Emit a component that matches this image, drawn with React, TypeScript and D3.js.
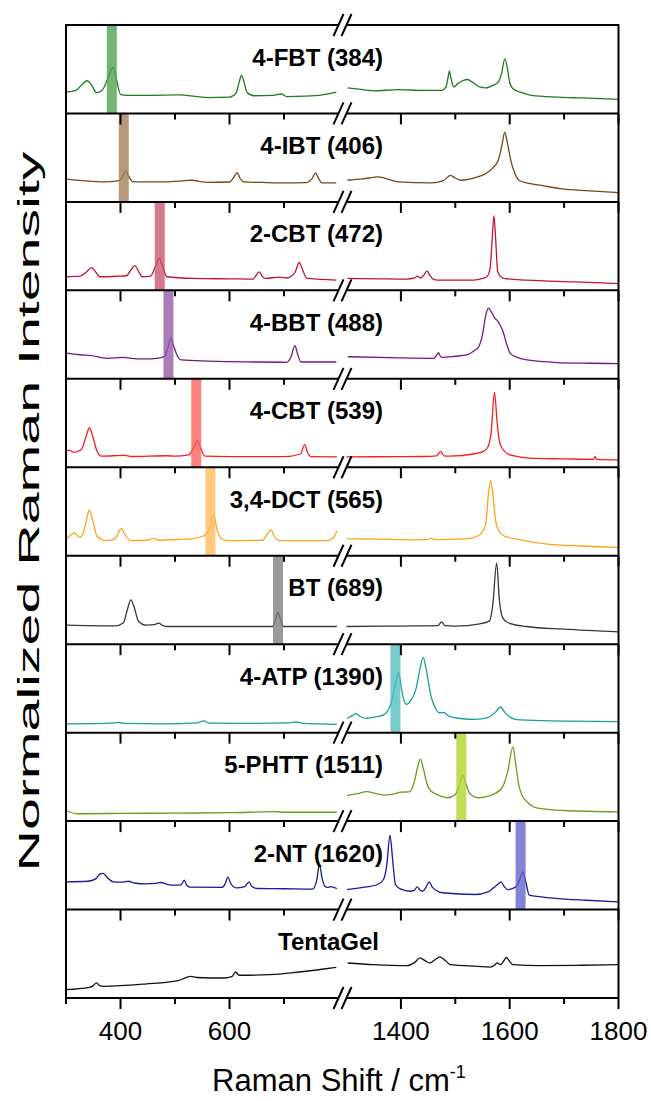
import React from 'react';
import * as d3 from 'd3';

// stacked SERS spectra, broken x axis (300-800 | 1300-1800)
const names = ['4-FBT (384)', '4-IBT (406)', '2-CBT (472)', '4-BBT (488)', '4-CBT (539)', '3,4-DCT (565)', 'BT (689)', '4-ATP (1390)', '5-PHTT (1511)', '2-NT (1620)', 'TentaGel'];
const marks = [384, 406, 472, 488, 539, 565, 689, 1390, 1511, 1620, null];

const majorTicks = [400, 600, 1400, 1600, 1800];
const minorTicks = [300, 500, 700, 1500, 1700];
const tickLabels = ['400', '600', '1400', '1600', '1800'];

// [wavenumber, normalized intensity within the panel]
const fbtLeft = [[300,0.24],[318,0.26],[330,0.33],[339,0.37],[346,0.33],[356,0.235],[366,0.26],[376,0.38],[386,0.52],[392,0.4],[400,0.216],[412,0.205],[450,0.205],[506,0.21],[560,0.18],[600,0.185],[612,0.23],[618,0.36],[622,0.43],[626,0.37],[632,0.24],[645,0.2],[680,0.205],[695,0.22],[705,0.19],[740,0.195],[770,0.21],[796,0.24]];
const fbtRight = [[1302,0.29],[1330,0.27],[1350,0.255],[1395,0.27],[1440,0.26],[1475,0.262],[1483,0.3],[1487,0.42],[1489,0.478],[1492,0.4],[1497,0.3],[1505,0.34],[1515,0.375],[1522,0.384],[1530,0.36],[1545,0.3],[1556,0.29],[1570,0.32],[1579,0.354],[1585,0.45],[1591,0.616],[1596,0.5],[1600,0.35],[1606,0.28],[1620,0.24],[1640,0.205],[1690,0.185],[1732,0.175],[1800,0.16]];
const ibtLeft = [[300,0.257],[330,0.24],[370,0.226],[398,0.24],[405,0.3],[410,0.35],[415,0.29],[423,0.226],[480,0.226],[510,0.235],[529,0.245],[560,0.22],[600,0.225],[608,0.28],[614,0.332],[619,0.27],[626,0.226],[660,0.22],[700,0.215],[740,0.218],[752,0.27],[758,0.328],[763,0.27],[770,0.215],[796,0.215]];
const ibtRight = [[1302,0.245],[1330,0.26],[1359,0.283],[1380,0.25],[1395,0.226],[1456,0.215],[1478,0.24],[1491,0.3],[1500,0.27],[1510,0.245],[1540,0.28],[1556,0.32],[1570,0.39],[1579,0.47],[1586,0.65],[1591,0.79],[1596,0.66],[1602,0.47],[1609,0.33],[1617,0.245],[1635,0.21],[1655,0.19],[1693,0.15],[1747,0.125],[1800,0.105]];
const cbt2Left = [[300,0.154],[325,0.16],[338,0.21],[347,0.258],[353,0.22],[362,0.154],[395,0.16],[411,0.165],[419,0.23],[426,0.28],[432,0.23],[440,0.154],[455,0.16],[464,0.27],[471,0.365],[476,0.3],[485,0.154],[534,0.135],[600,0.13],[643,0.127],[650,0.18],[655,0.21],[660,0.16],[665,0.135],[692,0.15],[705,0.14],[720,0.2],[728,0.315],[733,0.25],[742,0.135],[770,0.125],[796,0.115]];
const cbt2Right = [[1302,0.135],[1360,0.13],[1411,0.127],[1425,0.14],[1430,0.16],[1436,0.14],[1442,0.17],[1448,0.22],[1453,0.17],[1460,0.125],[1472,0.115],[1533,0.115],[1550,0.135],[1558,0.154],[1564,0.25],[1568,0.6],[1571,0.846],[1574,0.6],[1578,0.21],[1589,0.135],[1632,0.115],[1718,0.096],[1800,0.077]];
const bbtLeft = [[300,0.29],[325,0.272],[347,0.262],[365,0.24],[375,0.232],[405,0.243],[420,0.232],[442,0.225],[470,0.235],[480,0.25],[487,0.35],[492,0.457],[498,0.36],[505,0.25],[512,0.213],[560,0.2],[595,0.195],[650,0.19],[705,0.187],[713,0.25],[720,0.375],[725,0.28],[731,0.19],[796,0.19]];
const bbtRight = [[1302,0.25],[1380,0.24],[1460,0.232],[1466,0.27],[1469,0.296],[1472,0.26],[1476,0.243],[1500,0.255],[1521,0.27],[1535,0.32],[1543,0.363],[1550,0.5],[1556,0.72],[1561,0.8],[1566,0.76],[1572,0.69],[1577,0.66],[1583,0.6],[1588,0.53],[1594,0.4],[1601,0.288],[1615,0.24],[1632,0.213],[1687,0.184],[1750,0.176],[1800,0.172]];
const cbt4Left = [[300,0.19],[307,0.19],[315,0.168],[328,0.2],[336,0.33],[343,0.447],[349,0.35],[357,0.18],[365,0.125],[407,0.135],[420,0.122],[487,0.13],[500,0.125],[525,0.14],[534,0.22],[541,0.305],[547,0.22],[555,0.125],[600,0.12],[700,0.12],[730,0.15],[738,0.256],[743,0.17],[750,0.12],[797,0.118]];
const cbt4Right = [[1300,0.118],[1400,0.12],[1436,0.122],[1466,0.13],[1473,0.18],[1479,0.13],[1490,0.125],[1536,0.153],[1552,0.18],[1560,0.23],[1566,0.4],[1572,0.847],[1577,0.5],[1582,0.27],[1596,0.153],[1615,0.12],[1636,0.103],[1700,0.095],[1754,0.09],[1757,0.122],[1760,0.09],[1800,0.084]];
const dctLeft = [[300,0.19],[308,0.23],[315,0.257],[325,0.21],[333,0.28],[338,0.42],[343,0.517],[349,0.4],[357,0.22],[374,0.17],[390,0.19],[397,0.27],[402,0.31],[408,0.24],[420,0.17],[450,0.175],[460,0.196],[470,0.175],[487,0.18],[530,0.19],[553,0.226],[563,0.3],[571,0.46],[577,0.3],[585,0.19],[599,0.17],[660,0.175],[670,0.25],[676,0.294],[682,0.22],[692,0.17],[778,0.17],[790,0.2],[797,0.283]];
const dctRight = [[1301,0.19],[1380,0.185],[1436,0.18],[1450,0.185],[1456,0.2],[1462,0.182],[1520,0.19],[1540,0.22],[1549,0.264],[1556,0.36],[1561,0.7],[1565,0.85],[1569,0.7],[1574,0.4],[1580,0.28],[1589,0.226],[1620,0.18],[1669,0.132],[1730,0.11],[1800,0.094]];
const btLeft = [[300,0.215],[340,0.21],[390,0.207],[405,0.24],[413,0.4],[419,0.5],[425,0.42],[433,0.26],[447,0.215],[462,0.22],[470,0.238],[478,0.21],[487,0.2],[600,0.2],[679,0.2],[685,0.29],[689,0.36],[693,0.29],[699,0.2],[797,0.2]];
const btRight = [[1300,0.2],[1400,0.205],[1468,0.21],[1475,0.253],[1481,0.21],[1500,0.205],[1545,0.23],[1563,0.264],[1569,0.45],[1576,0.917],[1581,0.5],[1587,0.3],[1596,0.245],[1630,0.2],[1700,0.17],[1800,0.14]];
const atpLeft = [[300,0.1],[350,0.102],[390,0.11],[397,0.117],[405,0.105],[480,0.1],[540,0.11],[553,0.132],[562,0.108],[650,0.105],[710,0.11],[722,0.12],[735,0.105],[797,0.094]];
const atpRight = [[1301,0.162],[1310,0.19],[1317,0.215],[1326,0.18],[1337,0.162],[1355,0.18],[1370,0.207],[1378,0.27],[1383,0.358],[1390,0.55],[1396,0.68],[1401,0.5],[1406,0.36],[1410,0.32],[1418,0.36],[1428,0.5],[1436,0.75],[1441,0.85],[1447,0.7],[1455,0.42],[1463,0.283],[1470,0.226],[1479,0.226],[1490,0.18],[1510,0.16],[1536,0.15],[1560,0.17],[1575,0.24],[1583,0.29],[1592,0.22],[1610,0.15],[1660,0.135],[1800,0.125]];
const phttLeft = [[300,0.12],[321,0.083],[400,0.087],[500,0.09],[600,0.095],[685,0.106],[700,0.1],[797,0.1]];
const phttRight = [[1301,0.29],[1320,0.31],[1337,0.332],[1355,0.31],[1370,0.294],[1390,0.31],[1400,0.328],[1415,0.33],[1425,0.45],[1431,0.62],[1436,0.7],[1441,0.6],[1448,0.42],[1455,0.34],[1460,0.32],[1470,0.29],[1486,0.264],[1500,0.3],[1508,0.42],[1514,0.517],[1519,0.43],[1527,0.31],[1543,0.264],[1565,0.29],[1586,0.377],[1596,0.55],[1606,0.84],[1611,0.65],[1617,0.4],[1622,0.3],[1635,0.2],[1649,0.15],[1700,0.12],[1800,0.105]];
const ntLeft = [[300,0.313],[340,0.32],[355,0.35],[362,0.4],[368,0.41],[376,0.36],[387,0.313],[405,0.31],[414,0.32],[425,0.3],[447,0.29],[465,0.295],[474,0.306],[485,0.285],[500,0.275],[511,0.28],[517,0.332],[521,0.28],[527,0.253],[586,0.25],[592,0.29],[597,0.366],[602,0.3],[612,0.245],[628,0.26],[636,0.313],[641,0.26],[652,0.238],[700,0.235],[752,0.23],[760,0.33],[765,0.51],[770,0.35],[775,0.264],[780,0.25],[785,0.258],[797,0.238]];
const ntRight = [[1301,0.226],[1330,0.25],[1357,0.283],[1368,0.34],[1374,0.5],[1380,0.84],[1385,0.55],[1390,0.283],[1400,0.23],[1417,0.207],[1425,0.22],[1430,0.257],[1435,0.22],[1440,0.207],[1446,0.25],[1452,0.313],[1458,0.25],[1476,0.19],[1536,0.17],[1560,0.2],[1570,0.245],[1579,0.29],[1584,0.313],[1590,0.26],[1596,0.226],[1610,0.25],[1618,0.33],[1624,0.426],[1629,0.33],[1636,0.162],[1680,0.13],[1740,0.105],[1800,0.087]];
const tentaLeft = [[300,0.094],[343,0.12],[350,0.14],[356,0.17],[362,0.14],[369,0.132],[445,0.158],[506,0.196],[520,0.23],[529,0.245],[540,0.232],[590,0.226],[605,0.245],[611,0.294],[617,0.26],[621,0.257],[674,0.264],[727,0.294],[773,0.328],[796,0.347]];
const tentaRight = [[1302,0.396],[1350,0.377],[1411,0.366],[1425,0.4],[1435,0.453],[1445,0.42],[1453,0.396],[1462,0.43],[1472,0.464],[1482,0.42],[1491,0.377],[1541,0.358],[1564,0.35],[1572,0.37],[1577,0.396],[1583,0.377],[1589,0.42],[1594,0.46],[1599,0.42],[1606,0.377],[1655,0.366],[1730,0.37],[1800,0.377]];

const spectra = [
  [fbtLeft, fbtRight], [ibtLeft, ibtRight], [cbt2Left, cbt2Right], [bbtLeft, bbtRight],
  [cbt4Left, cbt4Right], [dctLeft, dctRight], [btLeft, btRight], [atpLeft, atpRight],
  [phttLeft, phttRight], [ntLeft, ntRight], [tentaLeft, tentaRight],
];

const lineColors = ['#1e7b1e', '#7a4515', '#c01535', '#72197f', '#ff1a1a', '#ffa31a', '#383838', '#1a9e9e', '#6b9c1a', '#1a1a9a', '#111111'];
const barColors = ['#4f9f4f', '#a47c58', '#c85570', '#9258a5', '#ff5c5c', '#ffb955', '#7d7d7d', '#52bcbc', '#aed42a', '#6262cc'];

const W = 651, H = 1101;
const left = 66, right = 618.5, top = 25, bottom = 998;
const breakX = 342.5;

export default function App() {
  const x = d3.scaleLinear().domain([300, 800, 1300, 1800]).range([left, 338.5, 346.5, right]);
  const band = d3.scaleLinear().domain([0, names.length]).range([top, bottom]);
  const n = names.length;

  const panels = names.map((name, i) => {
    const y0 = band(i), y1 = band(i + 1);
    const y = d3.scaleLinear().domain([0, 1]).range([y1, y0]);
    const line = d3.line<number[]>().x(d => x(d[0])).y(d => y(d[1])).curve(d3.curveMonotoneX);
    const m = marks[i];
    return (
      <g key={name}>
        {spectra[i].map((seg, k) => (
          <path key={k} d={line(seg) || ''} fill="none" stroke={lineColors[i]} strokeWidth={1.3} />
        ))}
        {m != null && (
          <rect x={x(m) - 5} y={y0} width={10} height={y1 - y0} fill={barColors[i]} opacity={0.78} />
        )}
        <text x={i === n - 1 ? 379 : 383} y={y0 + 40.5} textAnchor="end" fontSize={24} fontWeight="bold">{name}</text>
      </g>
    );
  });

  // ticks at every panel boundary, pointing down
  const ticks: JSX.Element[] = [];
  for (let i = 1; i <= n; i++) {
    const yy = band(i);
    majorTicks.forEach(t => ticks.push(<line key={`M${i}-${t}`} x1={x(t)} x2={x(t)} y1={yy} y2={yy + 11} stroke="#000" strokeWidth={2} />));
    minorTicks.forEach(t => ticks.push(<line key={`m${i}-${t}`} x1={x(t)} x2={x(t)} y1={yy} y2={yy + 6} stroke="#000" strokeWidth={2} />));
  }

  const breaks = d3.range(n + 1).map(i => {
    const yy = band(i);
    const s = 4, dx = 5, dy = 11;
    return (
      <g key={`b${i}`}>
        <polygon points={`${breakX - s - 2},${yy + 3} ${breakX + s - 2},${yy + 3} ${breakX + s + 2},${yy - 3} ${breakX - s + 2},${yy - 3}`} fill="#fff" />
        <line x1={breakX - s - dx} y1={yy + dy} x2={breakX - s + dx} y2={yy - dy} stroke="#000" strokeWidth={2} />
        <line x1={breakX + s - dx} y1={yy + dy} x2={breakX + s + dx} y2={yy - dy} stroke="#000" strokeWidth={2} />
      </g>
    );
  });

  return (
    <svg width={W} height={H} style={{ position: 'absolute', left: 0, top: 0, background: '#fff' }} fontFamily="'Liberation Sans', Arial, sans-serif">
      {panels}
      {d3.range(n + 1).map(i => (
        <line key={`h${i}`} x1={left} x2={right} y1={band(i)} y2={band(i)} stroke="#000" strokeWidth={2} />
      ))}
      <line x1={left} x2={left} y1={top - 1} y2={bottom} stroke="#000" strokeWidth={2} />
      <line x1={right} x2={right} y1={top - 1} y2={bottom} stroke="#000" strokeWidth={2} />
      {ticks}
      {breaks}
      {majorTicks.map((t, k) => (
        <text key={`tl${t}`} x={x(t)} y={1040} textAnchor="middle" fontSize={26}>{tickLabels[k]}</text>
      ))}
      <text x={339} y={1091} textAnchor="middle" fontSize={31}>
        Raman Shift / cm<tspan dy={-13} fontSize={18}>-1</tspan>
      </text>
      <text transform={`translate(39,${(top + bottom) / 2}) rotate(-90)`} textAnchor="middle" fontSize={30}
        textLength={720} lengthAdjust="spacingAndGlyphs">Normalized Raman Intensity</text>
    </svg>
  );
}
